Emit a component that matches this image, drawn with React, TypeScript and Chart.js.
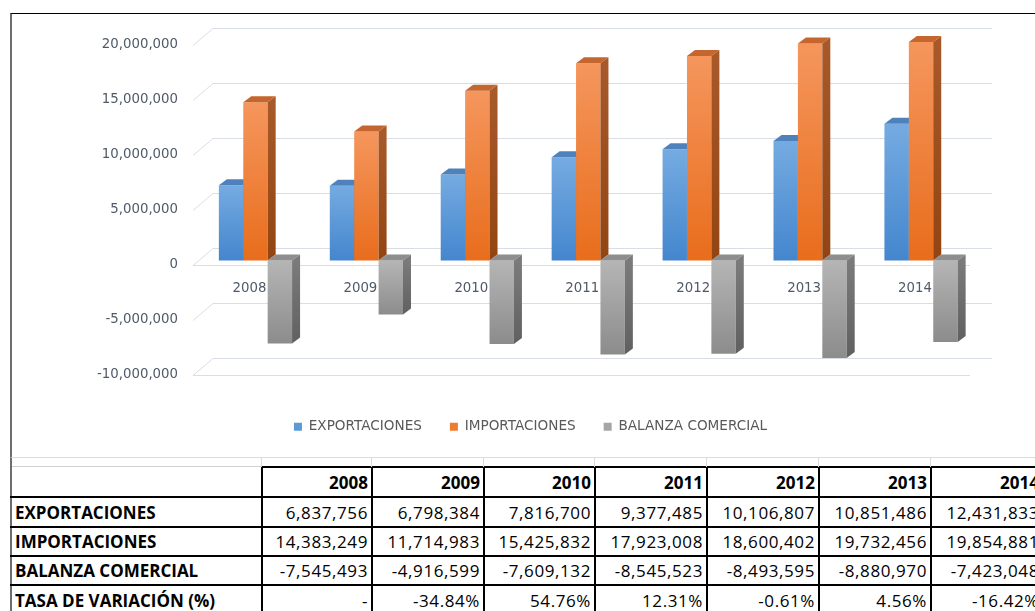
import React, { useEffect, useRef } from 'react';
import { Chart, registerables } from 'chart.js';

Chart.register(...registerables);

// ---------- data ----------
const years = ['2008', '2009', '2010', '2011', '2012', '2013', '2014'];
const exportaciones = [6837756, 6798384, 7816700, 9377485, 10106807, 10851486, 12431833];
const importaciones = [14383249, 11714983, 15425832, 17923008, 18600402, 19732456, 19854881];
const balanzaComercial = [-7545493, -4916599, -7609132, -8545523, -8493595, -8880970, -7423048];
const tasaVariacion = ['-', '-34.84%', '54.76%', '12.31%', '-0.61%', '4.56%', '-16.42%'];
const seriesNames = ['EXPORTACIONES', 'IMPORTACIONES', 'BALANZA COMERCIAL'];
const tasaLabel = 'TASA DE VARIACIÓN (%)';
const yTickMin = -10000000;
const yTickMax = 20000000;
const yTickStep = 5000000;

// ---------- styles ----------
const palette = [
  { solid: '#5B9BD5', top: '#75ABE1', bottom: '#4486CE', cap: '#4F82BD', sideTop: '#3F6FA6', sideBottom: '#355E91' },
  { solid: '#ED7D31', top: '#F5965D', bottom: '#E86D1C', cap: '#C4662E', sideTop: '#A8592A', sideBottom: '#924412' },
  { solid: '#A5A5A5', top: '#B5B5B5', bottom: '#8C8C8C', cap: '#8E8E8E', sideTop: '#7B7B7B', sideBottom: '#606060' },
];
const axisColor = '#4F5A69';
const axisFont = { family: 'DejaVu Sans', size: 13.3 };
const gridColor = '#D9DEE6';
const DEPTH_X = 8;
const DEPTH_Y = -6;

const fmt = (n: number) => Number(n).toLocaleString('en-US');

const frontFill = (i: number) => (ctx: any) => {
  const c = palette[i];
  const chart = ctx.chart;
  if (!chart.chartArea || ctx.type !== 'data' || !chart.scales.y) return c.solid;
  const ys = chart.scales.y;
  const v = ctx.raw as number;
  const y0 = ys.getPixelForValue(Math.max(v, 0));
  let y1 = ys.getPixelForValue(Math.min(v, 0));
  if (Math.abs(y1 - y0) < 1) y1 = y0 + 1;
  const g = chart.ctx.createLinearGradient(0, y0, 0, y1);
  g.addColorStop(0, c.top);
  g.addColorStop(1, c.bottom);
  return g;
};

const bars3d = {
  id: 'bars3d',
  beforeDatasetsDraw(chart: any) {
    const { ctx, chartArea, scales } = chart;
    const ys = scales.y;
    // perspective gridlines (back wall + slanted side wall)
    ctx.save();
    ctx.strokeStyle = gridColor;
    ctx.lineWidth = 1;
    ys.ticks.forEach((t: any) => {
      const yb = ys.getPixelForValue(t.value);
      const yf = Math.round(yb + 4.5) + 0.5;
      const yk = Math.round(yb - 12.5) + 0.5;
      ctx.beginPath();
      ctx.moveTo(chartArea.left - 7, yf);
      ctx.lineTo(chartArea.left + 13, yk);
      ctx.lineTo(chartArea.right + 15.5, yk);
      ctx.stroke();
    });
    [0, yTickMin].forEach((v) => {
      const yf = Math.round(ys.getPixelForValue(v) + 4.5) + 0.5;
      ctx.beginPath();
      ctx.moveTo(chartArea.left - 7, yf);
      ctx.lineTo(chartArea.right - 6.5, yf);
      ctx.stroke();
    });
    ctx.restore();

    // bars with top and side faces, painted dataset by dataset
    chart.data.datasets.forEach((_ds: any, i: number) => {
      const meta = chart.getDatasetMeta(i);
      if (meta.hidden) return;
      const c = palette[i];
      meta.data.forEach((el: any) => {
        el.draw(ctx, chartArea);
        const { x, y, base, width } = el.getProps(['x', 'y', 'base', 'width'], true);
        const l = x - width / 2;
        const r = x + width / 2;
        const top = Math.min(y, base);
        const bot = Math.max(y, base);
        ctx.save();
        ctx.fillStyle = c.cap;
        ctx.beginPath();
        ctx.moveTo(l, top);
        ctx.lineTo(l + DEPTH_X, top + DEPTH_Y);
        ctx.lineTo(r + DEPTH_X, top + DEPTH_Y);
        ctx.lineTo(r, top);
        ctx.closePath();
        ctx.fill();
        const g = ctx.createLinearGradient(0, top, 0, bot);
        g.addColorStop(0, c.sideTop);
        g.addColorStop(1, c.sideBottom);
        ctx.fillStyle = g;
        ctx.beginPath();
        ctx.moveTo(r, top);
        ctx.lineTo(r + DEPTH_X, top + DEPTH_Y);
        ctx.lineTo(r + DEPTH_X, bot + DEPTH_Y);
        ctx.lineTo(r, bot);
        ctx.closePath();
        ctx.fill();
        ctx.restore();
      });
    });
    return false;
  },
};

// ---------- layout (page pixels) ----------
const colEdges = [10, 262, 372, 484, 595, 707, 819, 931, 1043];
const rowEdges = [467, 497, 527, 556, 585, 615];
const tableFont = '"Open Sans", "Liberation Sans", sans-serif';

export default function App() {
  const ref = useRef<HTMLCanvasElement>(null);

  useEffect(() => {
    const canvas = ref.current;
    if (!canvas) return;
    const series = [exportaciones, importaciones, balanzaComercial];
    const chart = new Chart(canvas, {
      type: 'bar',
      data: {
        labels: years,
        datasets: series.map((d, i) => ({
          label: seriesNames[i],
          data: d,
          xAxisID: 'x',
          yAxisID: 'y',
          backgroundColor: frontFill(i),
          borderWidth: 0,
          categoryPercentage: 0.66,
          barPercentage: 1,
        })),
      },
      options: {
        responsive: false,
        maintainAspectRatio: false,
        animation: false,
        layout: { padding: { left: 14, top: 26.5, right: 0, bottom: 13.5 } },
        plugins: {
          tooltip: { enabled: false },
          legend: {
            position: 'bottom',
            labels: {
              boxWidth: 8,
              boxHeight: 8,
              padding: 28,
              color: '#595959',
              font: { family: 'DejaVu Sans', size: 13.6 },
              generateLabels: () =>
                seriesNames.map((name, i) => ({
                  text: name,
                  fillStyle: palette[i].solid,
                  strokeStyle: palette[i].solid,
                  lineWidth: 0,
                  hidden: false,
                  datasetIndex: i,
                  fontColor: '#595959',
                })),
            },
          },
        },
        scales: {
          x: {
            type: 'category',
            position: { y: 0 },
            offset: true,
            grid: { display: false, drawTicks: false },
            border: { display: false },
            ticks: { padding: 20, labelOffset: -6, color: axisColor, font: axisFont, maxRotation: 0, autoSkip: false },
            afterFit: (s: any) => { s.paddingLeft = 0; s.paddingRight = 0; },
          },
          y: {
            type: 'linear',
            position: 'left',
            min: yTickMin,
            max: yTickMax,
            grid: { display: false, drawTicks: false },
            border: { display: false },
            ticks: { stepSize: yTickStep, padding: 22, labelOffset: 4, color: axisColor, font: axisFont, callback: (v: any) => fmt(v) },
            afterFit: (s: any) => { s.width = 174; s.paddingTop = 0; s.paddingBottom = 0; },
          },
          xb: {
            type: 'category',
            position: 'bottom',
            grid: { display: false, drawTicks: false },
            border: { display: false },
            ticks: { display: false },
            afterFit: (s: any) => { s.height = 21.5; s.paddingLeft = 0; s.paddingRight = 0; },
          },
          yr: {
            type: 'linear',
            position: 'right',
            grid: { display: false, drawTicks: false },
            border: { display: false },
            ticks: { display: false },
            afterFit: (s: any) => { s.width = 58.5; s.paddingTop = 0; s.paddingBottom = 0; },
          },
        },
      } as any,
      plugins: [bars3d as any],
    });
    return () => chart.destroy();
  }, []);

  const rows: { label: string; values: string[] }[] = [
    { label: seriesNames[0], values: exportaciones.map(fmt) },
    { label: seriesNames[1], values: importaciones.map(fmt) },
    { label: seriesNames[2], values: balanzaComercial.map(fmt) },
    { label: tasaLabel, values: tasaVariacion },
  ];

  const cell = (left: number, top: number, w: number, h: number, text: string, align: 'left' | 'right', bold: boolean, key: string) => (
    <div
      key={key}
      style={{
        position: 'absolute',
        left,
        top,
        width: w,
        height: h,
        display: 'flex',
        alignItems: 'center',
        justifyContent: align === 'left' ? 'flex-start' : 'flex-end',
        boxSizing: 'border-box',
        padding: align === 'left' ? '0 0 0 3px' : '0 4px 0 0',
        fontFamily: tableFont,
        fontSize: 17,
        fontWeight: bold ? 700 : 400,
        letterSpacing: bold ? 0 : 0.6,
        color: '#000',
        whiteSpace: 'nowrap',
        overflow: 'hidden',
      }}
    >
      {text}
    </div>
  );

  const lines: React.ReactNode[] = [];
  // horizontal black borders
  rowEdges.forEach((y, i) => {
    const start = i === 0 ? colEdges[1] : colEdges[0];
    lines.push(<div key={'h' + i} style={{ position: 'absolute', left: start, top: y - 1, width: colEdges[colEdges.length - 1] - start, height: 2, background: '#000' }} />);
  });
  // vertical black borders
  colEdges.slice(1).forEach((x, i) => {
    lines.push(<div key={'v' + i} style={{ position: 'absolute', left: x - 1, top: rowEdges[0] - 1, width: 2, height: 611 - rowEdges[0] + 1, background: '#000' }} />);
  });
  // light spreadsheet gridlines between chart and table
  colEdges.slice(1).forEach((x, i) => {
    lines.push(<div key={'g' + i} style={{ position: 'absolute', left: x - 1, top: 458, width: 1, height: 9, background: '#DADADA' }} />);
  });
  lines.push(<div key="gtop" style={{ position: 'absolute', left: 12, top: 466, width: colEdges[1] - 12, height: 1, background: '#D0D0D0' }} />);

  const cells: React.ReactNode[] = [];
  years.forEach((yr, j) => {
    cells.push(cell(colEdges[j + 1], rowEdges[0], colEdges[j + 2] - colEdges[j + 1], rowEdges[1] - rowEdges[0], yr, 'right', true, 'hd' + j));
  });
  rows.forEach((row, i) => {
    const top = rowEdges[i + 1];
    const h = rowEdges[i + 2] - rowEdges[i + 1];
    cells.push(cell(colEdges[0] + 2, top, colEdges[1] - colEdges[0] - 2, h, row.label, 'left', true, 'lb' + i));
    row.values.forEach((v, j) => {
      cells.push(cell(colEdges[j + 1], top, colEdges[j + 2] - colEdges[j + 1], h, v, 'right', false, 'c' + i + '_' + j));
    });
  });

  return (
    <div style={{ position: 'absolute', left: 0, top: 0, width: 1035, height: 611, overflow: 'hidden', background: '#fff' }}>
      <div
        style={{
          position: 'absolute',
          left: 10,
          top: 13,
          width: 1025,
          height: 445,
          boxSizing: 'border-box',
          borderTop: '1px solid #000',
          borderLeft: '2px solid #6E6E6E',
          borderBottom: '1px solid #D6DCE4',
        }}
      >
        <canvas ref={ref} width={1023} height={443} style={{ display: 'block', width: 1023, height: 443 }} />
      </div>
      <div style={{ position: 'absolute', left: 10, top: 458, width: 2, height: 611 - 458, background: '#6E6E6E' }} />
      {lines}
      {cells}
    </div>
  );
}
